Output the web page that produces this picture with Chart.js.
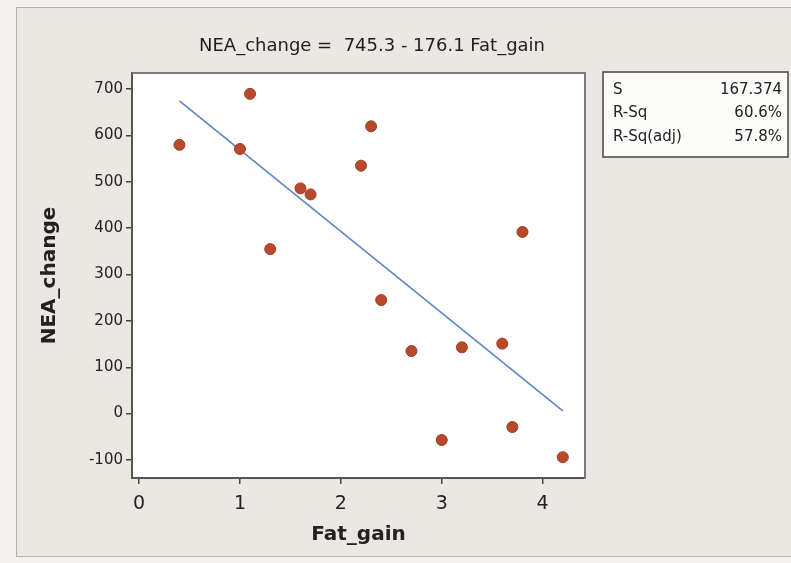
<!DOCTYPE html>
<html>
<head>
<meta charset="utf-8">
<script src="https://cdn.jsdelivr.net/npm/chart.js@4.4.1/dist/chart.umd.min.js"></script>
<style>
  html, body { margin: 0; padding: 0; background: #f4f2ef; }
  #wrap { width: 791px; height: 563px; }
</style>
</head>
<body>
<div id="wrap"><canvas id="plot" width="791" height="563"></canvas></div>
<script>
// data
const fatGain = [0.4, 1.0, 1.1, 1.3, 1.6, 1.7, 2.2, 2.3, 2.4, 2.7, 3.0, 3.2, 3.6, 3.7, 3.8, 4.2];
const neaChange = [580, 571, 690, 355, 486, 473, 535, 620, 245, 135, -57, 143, 151, -29, 392, -94];

// fitted line ends (NEA_change = 745.3 - 176.1 Fat_gain)
const fitX = [0.4, 4.2];
const fitY = [674.9, 5.7];

const titleText = "NEA_change =  745.3 - 176.1 Fat_gain";
const statLabels = ["S", "R-Sq", "R-Sq(adj)"];
const statValues = ["167.374", "60.6%", "57.8%"];

const xTicks = [0, 1, 2, 3, 4];
const yTicks = [-100, 0, 100, 200, 300, 400, 500, 600, 700];

const FONT = "'DejaVu Sans', sans-serif";

// background, frame, plot box, title and stats table
const decor = {
    id: "decor",
    beforeDraw(chart) {
        const ctx = chart.ctx;
        const a = chart.chartArea;
        ctx.save();
        ctx.fillStyle = "#f4f2ef";
        ctx.fillRect(0, 0, chart.width, chart.height);
        ctx.fillStyle = "#ebe8e3";
        ctx.fillRect(16, 7, chart.width, 550);
        ctx.strokeStyle = "#b3afa9";
        ctx.lineWidth = 1;
        ctx.strokeRect(16.5, 7.5, chart.width, 549);
        ctx.fillStyle = "#ffffff";
        ctx.fillRect(a.left, a.top, a.right - a.left, a.bottom - a.top);
        ctx.restore();
    },
    afterDraw(chart) {
        const ctx = chart.ctx;
        const a = chart.chartArea;
        ctx.save();
        ctx.strokeStyle = "#7a7a7a";
        ctx.lineWidth = 2;
        ctx.beginPath();
        ctx.moveTo(a.left, a.top);
        ctx.lineTo(a.right, a.top);
        ctx.lineTo(a.right, a.bottom);
        ctx.stroke();

        ctx.fillStyle = "#1e1e1e";
        ctx.font = "18px " + FONT;
        ctx.textAlign = "center";
        ctx.textBaseline = "middle";
        ctx.fillText(titleText, 372, 46);

        // stats box
        ctx.fillStyle = "#fbfbfa";
        ctx.fillRect(603, 72, 185, 85);
        ctx.strokeStyle = "#444";
        ctx.lineWidth = 1.5;
        ctx.strokeRect(603, 72, 185, 85);
        ctx.font = "15px " + FONT;
        ctx.fillStyle = "#222";
        statLabels.forEach((lab, i) => {
            const y = 90 + i * 23.5;
            ctx.textAlign = "left";
            ctx.fillText(lab, 613, y);
            ctx.textAlign = "right";
            ctx.fillText(statValues[i], 782, y);
        });
        ctx.restore();
    }
};

new Chart(document.getElementById("plot"), {
    type: "scatter",
    data: {
        datasets: [
            {
                label: "data",
                data: fatGain.map((x, i) => ({ x: x, y: neaChange[i] })),
                backgroundColor: "#b9492b",
                borderColor: "#a03f27",
                borderWidth: 1,
                pointRadius: 5.5,
                order: 0
            },
            {
                type: "line",
                label: "fit",
                data: fitX.map((x, i) => ({ x: x, y: fitY[i] })),
                borderColor: "#5f86c2",
                borderWidth: 1.6,
                pointRadius: 0,
                fill: false,
                order: 1
            }
        ]
    },
    options: {
        responsive: false,
        animation: false,
        events: [],
        layout: { padding: { left: 0, top: 73, right: 206, bottom: 0 } },
        plugins: { legend: { display: false }, tooltip: { enabled: false } },
        scales: {
            x: {
                type: "linear",
                min: -0.07,
                max: 4.42,
                afterFit: s => { s.height = 85; },
                afterBuildTicks: s => { s.ticks = xTicks.map(v => ({ value: v })); },
                ticks: { stepSize: 1, includeBounds: false, color: "#222", padding: 9,
                         font: { size: 19, family: FONT } },
                grid: { drawOnChartArea: false, drawTicks: true, tickLength: 6, color: "#444", lineWidth: 1.5 },
                border: { display: true, color: "#555", width: 2 },
                title: { display: true, text: "Fat_gain", color: "#222",
                         font: { size: 20, weight: "bold", family: FONT },
                         padding: { top: 0, bottom: 16 } }
            },
            y: {
                type: "linear",
                min: -139,
                max: 735,
                afterFit: s => { s.width = 132; },
                afterBuildTicks: s => { s.ticks = yTicks.map(v => ({ value: v })); },
                ticks: { stepSize: 100, includeBounds: false, color: "#222", padding: 3,
                         font: { size: 15, family: FONT } },
                grid: { drawOnChartArea: false, drawTicks: true, tickLength: 6, color: "#444", lineWidth: 1.5 },
                border: { display: true, color: "#555", width: 2 },
                title: { display: true, text: "NEA_change", color: "#222",
                         font: { size: 20, weight: "bold", family: FONT },
                         padding: { top: 38, bottom: 0 } }
            }
        }
    },
    plugins: [decor]
});
</script>
</body>
</html>
